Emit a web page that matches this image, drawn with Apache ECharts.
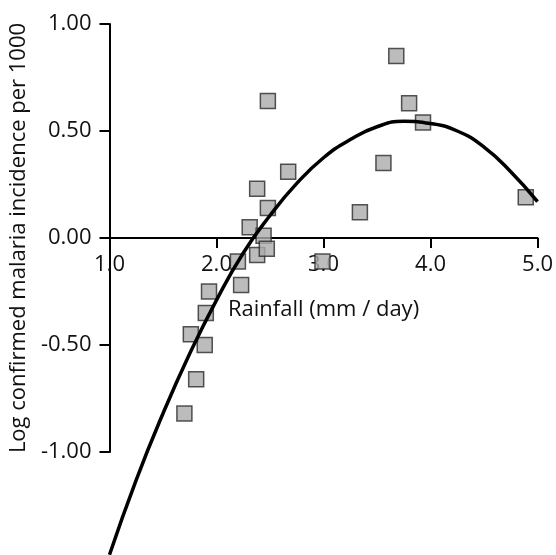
<!DOCTYPE html>
<html>
<head>
<meta charset="utf-8">
<script src="https://cdn.jsdelivr.net/npm/echarts@6/dist/echarts.min.js"></script>
<style>
  html, body { margin: 0; padding: 0; background: #fff; }
  #chart { width: 556px; height: 555px; }
</style>
</head>
<body>
<div id="chart"></div>
<script>
// 降雨量 (mm/day)
var rainfall = [1.70, 1.76, 1.89, 1.81, 1.90, 1.93, 2.20, 2.23, 2.31, 2.38, 2.38, 2.44, 2.47, 2.48, 2.48, 2.67, 2.99, 3.34, 3.56, 3.68, 3.80, 3.93, 4.89];
// log 发病率
var incidence = [-0.82, -0.45, -0.50, -0.66, -0.35, -0.25, -0.11, -0.22, 0.05, 0.23, -0.08, 0.01, -0.05, 0.14, 0.64, 0.31, -0.11, 0.12, 0.35, 0.85, 0.63, 0.54, 0.19];

// 拟合曲线
var fitX = [1.00, 1.25, 1.50, 1.75, 2.00, 2.25, 2.50, 2.75, 3.00, 3.25, 3.50, 3.75, 4.00, 4.25, 4.50, 4.75, 5.00];
var fitY = [-1.48, -1.13, -0.82, -0.54, -0.29, -0.07, 0.105, 0.255, 0.375, 0.46, 0.52, 0.545, 0.535, 0.50, 0.425, 0.31, 0.17];

var xTicks = [1, 2, 3, 4, 5];
var yTicks = [-1, -0.5, 0, 0.5, 1];

var chart = echarts.init(document.getElementById('chart'));

var points = [];
for (var i = 0; i < rainfall.length; i++) {
  points.push([rainfall[i], incidence[i]]);
}
var curve = [];
for (var j = 0; j < fitX.length; j++) {
  curve.push([fitX[j], fitY[j]]);
}

var font = '"Open Sans", "Noto Sans", sans-serif';
var gridTop = 24, gridHeight = 428;

var option = {
  animation: false,
  backgroundColor: '#fff',
  grid: {
    left: 108,
    right: 18,
    top: gridTop,
    height: gridHeight
  },
  xAxis: {
    type: 'value',
    min: xTicks[0],
    max: xTicks[xTicks.length - 1],
    interval: 1,
    // 横轴放在 y=0 处 (整条轴上移, 标签一起)
    offset: -gridHeight / 2,
    name: 'Rainfall (mm / day)',
    nameLocation: 'middle',
    nameGap: 61,
    nameTextStyle: { fontFamily: font, fontSize: 22, color: '#111' },
    splitLine: { show: false },
    axisLine: { onZero: false, lineStyle: { color: '#000', width: 2 } },
    axisTick: { length: 10, lineStyle: { color: '#000', width: 2 } },
    axisLabel: {
      margin: 16,
      fontFamily: font,
      fontSize: 22,
      color: '#111',
      formatter: function (v) { return v.toFixed(1); }
    }
  },
  yAxis: {
    type: 'value',
    min: yTicks[0],
    max: yTicks[yTicks.length - 1],
    interval: 0.5,
    name: 'Log confirmed malaria incidence per 1000',
    nameLocation: 'middle',
    nameGap: 67,
    nameTextStyle: { fontFamily: font, fontSize: 22, color: '#111' },
    splitLine: { show: false },
    axisLine: { show: true, onZero: false, lineStyle: { color: '#000', width: 2 } },
    axisTick: { show: true, length: 10, lineStyle: { color: '#000', width: 2 } },
    axisLabel: {
      margin: 18,
      fontFamily: font,
      fontSize: 22,
      color: '#111',
      formatter: function (v) { return v.toFixed(2); }
    }
  },
  series: [{
    type: 'scatter',
    symbol: 'rect',
    symbolSize: 15,
    itemStyle: {
      color: '#ababab',
      borderColor: '#2a2a2a',
      borderWidth: 1.5
    },
    data: points,
    z: 2
  }, {
    type: 'line',
    smooth: 0.5,
    showSymbol: false,
    clip: false,
    lineStyle: { color: '#000', width: 3.5 },
    data: curve,
    z: 3
  }]
};
chart.setOption(option);
</script>
</body>
</html>
